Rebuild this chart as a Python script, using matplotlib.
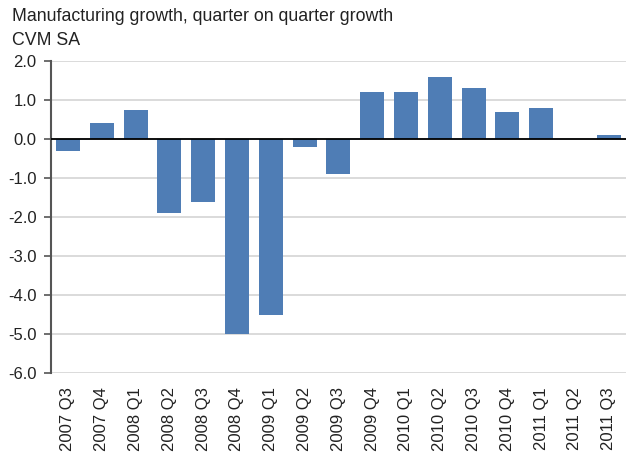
import numpy as np
import matplotlib.pyplot as plt

plt.rcParams['font.family'] = ['Liberation Sans', 'DejaVu Sans']

quarters = ['2007 Q3', '2007 Q4', '2008 Q1', '2008 Q2', '2008 Q3', '2008 Q4',
            '2009 Q1', '2009 Q2', '2009 Q3', '2009 Q4', '2010 Q1', '2010 Q2',
            '2010 Q3', '2010 Q4', '2011 Q1', '2011 Q2', '2011 Q3']
growth = [-0.3, 0.4, 0.74, -1.9, -1.6, -5.0, -4.5, -0.2, -0.9, 1.2, 1.2, 1.6,
          1.3, 0.7, 0.8, 0.0, 0.1]
yticks = [-6.0, -5.0, -4.0, -3.0, -2.0, -1.0, 0.0, 1.0, 2.0]

fig = plt.figure(figsize=(6.26, 4.59), dpi=100)
ax = fig.add_axes([0.0815, 0.187, 0.918, 0.680])

x = np.arange(len(quarters))
ax.bar(x, growth, width=0.71, color='#4f7db5', zorder=3)
ax.axhline(0, color='black', lw=1.3, zorder=4)

ax.set_xlim(-0.5, len(quarters) - 0.5)
ax.set_ylim(-6, 2)
ax.set_yticks(yticks)
ax.set_yticklabels(['{:.1f}'.format(v) for v in yticks], fontsize=12, color='#222222')
ax.set_xticks(x)
ax.set_xticklabels(quarters, rotation=90, fontsize=12, color='#222222')
ax.tick_params(axis='x', length=0, pad=10)
ax.tick_params(axis='y', length=5, width=1.2, color='#555555', pad=5.5)

ax.grid(axis='y', color='#d4d4d4', lw=1.2, zorder=0)
for s in ['top', 'right', 'bottom']:
    ax.spines[s].set_visible(False)
ax.spines['left'].set_color('#555555')
ax.spines['left'].set_linewidth(1.5)

fig.text(0.019, 0.963, 'Manufacturing growth, quarter on quarter growth',
         fontsize=12.8, color='#222222', va='center')
fig.text(0.019, 0.911, 'CVM SA', fontsize=12.8, color='#222222', va='center')

plt.savefig('out.png')
